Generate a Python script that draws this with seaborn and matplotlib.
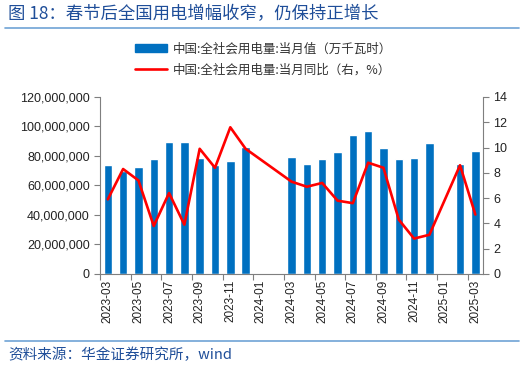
import matplotlib
matplotlib.use("Agg")
import matplotlib.pyplot as plt
import numpy as np
import pandas as pd
import seaborn as sns
from matplotlib.lines import Line2D
from matplotlib.patches import Patch
from matplotlib.ticker import FuncFormatter, FixedLocator

# data
months = [
    "2023-03", "2023-04", "2023-05", "2023-06", "2023-07", "2023-08",
    "2023-09", "2023-10", "2023-11", "2023-12", "2024-01", "2024-02",
    "2024-03", "2024-04", "2024-05", "2024-06", "2024-07", "2024-08",
    "2024-09", "2024-10", "2024-11", "2024-12", "2025-01", "2025-02",
    "2025-03",
]
power_use = [
    73.9e6, 69.5e6, 72.3e6, 77.7e6, 89.3e6, 89.3e6,
    78.4e6, 74.0e6, 76.8e6, 85.9e6, np.nan, np.nan,
    79.5e6, 74.3e6, 77.7e6, 82.5e6, 94.2e6, 97.0e6,
    85.2e6, 77.7e6, 78.8e6, 89.0e6, np.nan, 74.3e6,
    83.4e6,
]
yoy = [
    5.9, 8.3, 7.4, 3.8, 6.4, 3.9,
    9.9, 8.4, 11.6, 9.9, np.nan, np.nan,
    7.3, 6.9, 7.2, 5.8, 5.6, 8.8,
    8.4, 4.3, 2.8, 3.1, np.nan, 8.6,
    4.7,
]

BAR_LABEL = "中国:全社会用电量:当月值（万千瓦时）"
LINE_LABEL = "中国:全社会用电量:当月同比（右，%）"
TITLE = "图 18：春节后全国用电增幅收窄，仍保持正增长"
SOURCE = "资料来源：华金证券研究所，wind"

BLUE = "#0070C0"
RED = "#FF0000"
TITLE_BLUE = "#1F4E99"
RULE_BLUE = "#6FA3D6"
GRAY = "#7F7F7F"

sns.set_style("white")
plt.rcParams["font.family"] = ["Liberation Sans", "Noto Sans CJK SC", "DejaVu Sans"]
CJK = ["Noto Sans CJK SC", "DejaVu Sans"]

df = pd.DataFrame({"month": months, "power": power_use, "yoy": yoy})
df["pos"] = np.arange(len(df))

fig = plt.figure(figsize=(5.27, 3.70), dpi=100)
ax = fig.add_axes([0.19, 0.2595, 0.7265, 0.4785])

sns.barplot(x="month", y="power", data=df, order=months, color=BLUE,
            saturation=1, width=0.55, ax=ax)

ax2 = ax.twinx()
line_df = df.dropna(subset=["yoy"])
sns.lineplot(x="pos", y="yoy", data=line_df, color=RED, linewidth=1.9,
             sort=True, ax=ax2)

ax.set_xlim(-0.5, len(months) - 0.5)
ax.set_ylim(0, 120e6)
ax.set_yticks(np.arange(0, 120e6 + 1, 20e6))
ax.yaxis.set_major_formatter(FuncFormatter(lambda v, p: f"{int(v):,}"))
ax2.set_ylim(0, 14)
ax2.set_yticks(np.arange(0, 15, 2))
ax2.set_xlim(-0.5, len(months) - 0.5)

# labels every two months, tick marks between categories
ax.set_xticks(range(0, len(months), 2))
ax.set_xticklabels(months[::2], rotation=90, fontsize=8.5, color="#222222")
ax.tick_params(axis="x", which="major", length=0, pad=4)
ax.xaxis.set_minor_locator(FixedLocator(np.arange(-0.5, len(months), 2)))
ax.tick_params(axis="x", which="minor", length=4, color=GRAY, width=0.8,
               direction="out", bottom=True)
ax.tick_params(axis="y", labelsize=9, length=4, color=GRAY, width=0.8,
               direction="out", left=True, labelcolor="#222222")
ax2.tick_params(axis="y", labelsize=9, length=4, color=GRAY, width=0.8,
                direction="out", right=True, labelcolor="#222222")

for a in (ax, ax2):
    a.set_xlabel("")
    a.set_ylabel("")
    a.spines["top"].set_visible(False)
    for side in ("left", "right", "bottom"):
        a.spines[side].set_color(GRAY)
        a.spines[side].set_linewidth(0.8)
ax.spines["right"].set_visible(False)
ax2.spines["left"].set_visible(False)
ax2.spines["bottom"].set_visible(False)

# legend
handles = [Patch(facecolor=BLUE, edgecolor=BLUE),
           Line2D([], [], color=RED, linewidth=1.9)]
fig.legend(handles, [BAR_LABEL, LINE_LABEL], loc="upper center",
           bbox_to_anchor=(0.5, 0.915), ncol=1, frameon=False,
           prop={"family": CJK, "size": 9}, handlelength=2.6,
           handleheight=0.6, labelspacing=0.6, handletextpad=0.5,
           labelcolor="#333333")

# title and source
fig.text(0.015, 0.962, TITLE, family=CJK, fontsize=12.5, color=TITLE_BLUE,
         va="center", ha="left")
fig.add_artist(Line2D([0.01, 0.985], [0.924, 0.924], color=RULE_BLUE,
                      linewidth=1.2, transform=fig.transFigure))
fig.add_artist(Line2D([0.01, 0.985], [0.078, 0.078], color=RULE_BLUE,
                      linewidth=1.2, transform=fig.transFigure))
fig.text(0.015, 0.04, SOURCE, family=CJK, fontsize=10.5, color=TITLE_BLUE,
         style="italic", va="center", ha="left")

fig.savefig("out.png", dpi=100)
